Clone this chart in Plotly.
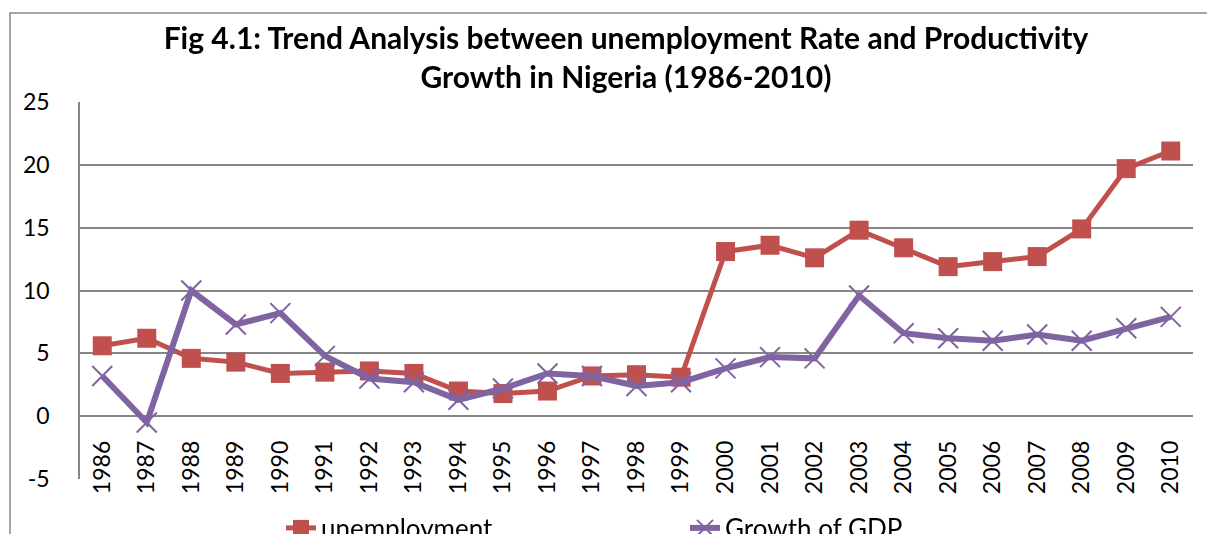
import plotly.graph_objects as go

years = [str(y) for y in range(1986, 2011)]
unemployment = [5.6, 6.2, 4.6, 4.3, 3.4, 3.5, 3.6, 3.4, 2.0, 1.8, 2.0, 3.2, 3.3, 3.1,
                13.1, 13.6, 12.6, 14.8, 13.4, 11.9, 12.3, 12.7, 14.9, 19.7, 21.1]
gdp_growth = [3.2, -0.5, 10.0, 7.3, 8.2, 4.8, 3.0, 2.7, 1.3, 2.2, 3.4, 3.2, 2.4, 2.7,
              3.8, 4.7, 4.6, 9.6, 6.6, 6.2, 6.0, 6.5, 6.0, 7.0, 7.9]
y_ticks = [-5, 0, 5, 10, 15, 20, 25]
y_tick_text = ["-5", "0", "5", "10", "15", "20", "25"]

FONT = "Lato"
OFF = 8  # default page body margin
W, H = 1215 - OFF, 534 - OFF
# plot area in page pixels: left 80, right 1193, top 102, bottom 479
ml, mt = 80 - OFF, 102 - OFF
mr = W - (1193 - OFF)
mb = H - (479 - OFF)
pw = W - ml - mr
ph = H - mt - mb

def px_x(p):  # page px -> paper x
    return (p - OFF - ml) / pw

def px_y(p):  # page px -> paper y
    return (H - mb - (p - OFF)) / ph

fig = go.Figure()
fig.add_trace(go.Scatter(
    x=years, y=unemployment, name="unemployment", mode="lines+markers",
    line=dict(color="#C0504D", width=5),
    marker=dict(symbol="square", size=19, color="#C0504D"),
))
fig.add_trace(go.Scatter(
    x=years, y=gdp_growth, name="Growth of GDP", mode="lines+markers",
    line=dict(color="#8064A2", width=6),
    marker=dict(symbol="x-thin", size=20, line=dict(color="#8064A2", width=2)),
))
# invisible helper trace for the label axis crossing at zero
fig.add_trace(go.Scatter(
    x=years, y=unemployment, xaxis="x2", mode="markers", opacity=0,
    showlegend=False, hoverinfo="skip",
))

y_min, y_max = -5, 25
zero_frac = (0 - y_min) / (y_max - y_min)

fig.update_layout(
    width=W, height=H,
    margin=dict(l=ml, r=mr, t=mt, b=mb, autoexpand=False),
    paper_bgcolor="white", plot_bgcolor="white",
    font=dict(family=FONT, color="black", size=24),
    title=dict(
        text="Fig 4.1: Trend Analysis between unemployment Rate and Productivity<br>Growth in Nigeria (1986-2010)",
        x=(626 - OFF) / W, xanchor="center", y=1 - 41 / H, yanchor="middle",
        font=dict(family=FONT, size=30, color="black", weight="bold"),
    ),
    xaxis=dict(
        type="category", categoryarray=years, range=[-0.5, len(years) - 0.5],
        showticklabels=False, showgrid=False, zeroline=False, showline=False,
        ticks="",
    ),
    xaxis2=dict(
        type="category", categoryarray=years, range=[-0.5, len(years) - 0.5],
        overlaying="x", anchor="free", position=zero_frac, side="bottom",
        showticklabels=True, tickangle=-90, showgrid=False, zeroline=False,
        showline=False, ticks="", ticklabelstandoff=19,
        tickfont=dict(family=FONT, size=23, color="black"),
    ),
    yaxis=dict(
        range=[y_min, y_max], tickvals=y_ticks, ticktext=y_tick_text, showgrid=True,
        gridcolor="#868686", gridwidth=1.5, zeroline=True, zerolinecolor="#868686",
        zerolinewidth=1.5, showline=True, linecolor="#868686", linewidth=1.5,
        ticks="", ticklabelstandoff=24,
        tickfont=dict(family=FONT, size=23, color="black"),
    ),
    showlegend=True,
    legend=dict(
        orientation="h", x=px_x(281), xanchor="left", y=px_y(528), yanchor="middle",
        font=dict(family=FONT, size=26, color="black"),
        entrywidth=359, entrywidthmode="pixels", bgcolor="rgba(0,0,0,0)",
    ),
    shapes=[dict(
        type="rect", xref="paper", yref="paper",
        x0=px_x(10), x1=px_x(1260), y0=px_y(600), y1=px_y(13),
        line=dict(color="#888888", width=1.5), fillcolor="rgba(0,0,0,0)", layer="below",
    )],
)

fig.write_html("out.html")
